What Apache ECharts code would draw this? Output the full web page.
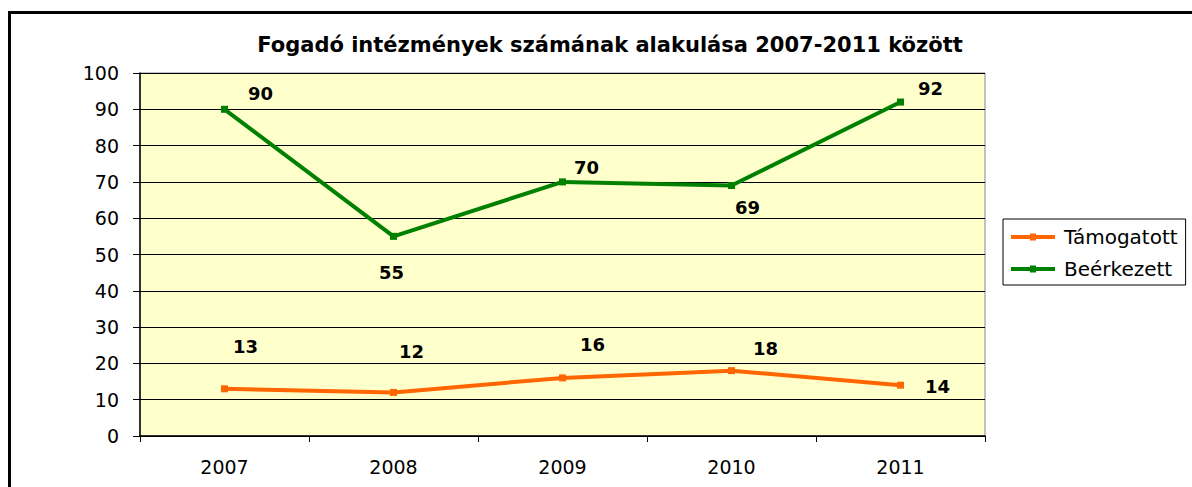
<!DOCTYPE html>
<html>
<head>
<meta charset="utf-8">
<script src="https://cdn.jsdelivr.net/npm/echarts@6/dist/echarts.min.js"></script>
<style>
html,body{margin:0;padding:0;background:#fff;}
#chart{width:1192px;height:487px;}
</style>
</head>
<body>
<div id="chart"></div>
<script>
// Fogadó intézmények számának alakulása
var years = ['2007', '2008', '2009', '2010', '2011'];
var tamogatott = [13, 12, 16, 18, 14];
var beerkezett = [90, 55, 70, 69, 92];

// label offsets (px) from each point, as in the original
var tamOffsets = [[21, -42], [18, -41], [30, -33], [34, -22], [37, 1]];
var beeOffsets = [[36, -16], [-2, 36], [24, -14], [16, 22], [30, -14]];

function withLabels(values, offsets) {
	return values.map(function (v, i) {
		return {value: v, label: {offset: offsets[i]}};
	});
}

var labelStyle = {
	show: true,
	position: 'inside',
	align: 'center',
	verticalAlign: 'middle',
	fontFamily: 'DejaVu Sans',
	fontWeight: 'bold',
	fontSize: 18,
	color: '#000'
};

// legend icon: thick line with a small square in the middle
var legendIcon = 'path://M0,5 L44,5 L44,9 L0,9 Z M19,3.5 L25,3.5 L25,10.5 L19,10.5 Z';

var chart = echarts.init(document.getElementById('chart'), null, {renderer: 'svg'});
var option = {
	animation: false,
	title: {
		text: 'Fogadó intézmények számának alakulása 2007-2011 között',
		left: 605,
		textAlign: 'center',
		top: 29,
		textStyle: {
			fontFamily: 'DejaVu Sans',
			fontWeight: 'bold',
			fontSize: 21,
			color: '#000'
		}
	},
	graphic: [{
		type: 'rect',
		shape: {x: 9.5, y: 12.5, width: 1200, height: 500},
		style: {fill: 'none', stroke: '#000', lineWidth: 3},
		silent: true
	}],
	legend: {
		orient: 'vertical',
		left: 1003,
		top: 219,
		padding: [8, 8, 6, 8],
		itemGap: 12,
		itemWidth: 44,
		itemHeight: 14,
		borderColor: '#000',
		borderWidth: 1,
		backgroundColor: '#fff',
		data: [
			{name: 'Támogatott', icon: legendIcon},
			{name: 'Beérkezett', icon: legendIcon}
		],
		textStyle: {
			fontFamily: 'DejaVu Sans',
			fontSize: 20,
			color: '#000',
			padding: [0, 0, 0, 4]
		}
	},
	grid: {
		left: 140,
		top: 73,
		right: 207,
		bottom: 51,
		show: true,
		backgroundColor: '#FFFFCC',
		borderColor: '#888',
		borderWidth: 1
	},
	xAxis: {
		type: 'category',
		data: years,
		boundaryGap: true,
		axisLine: {lineStyle: {color: '#000', width: 1.5}},
		axisTick: {show: true, length: 6, lineStyle: {color: '#000'}},
		axisLabel: {
			fontFamily: 'DejaVu Sans',
			fontSize: 19,
			color: '#000',
			margin: 21
		},
		splitLine: {show: false}
	},
	yAxis: {
		type: 'value',
		min: 0,
		max: 100,
		interval: 10,
		axisLine: {show: true, lineStyle: {color: '#000', width: 1.5}},
		axisTick: {show: true, length: 7, lineStyle: {color: '#000'}},
		axisLabel: {
			fontFamily: 'DejaVu Sans',
			fontSize: 19,
			color: '#000',
			margin: 21
		},
		splitLine: {show: true, lineStyle: {color: '#000', width: 1}}
	},
	series: [
		{
			name: 'Támogatott',
			type: 'line',
			data: withLabels(tamogatott, tamOffsets),
			symbol: 'rect',
			symbolSize: 7,
			lineStyle: {color: '#FF6600', width: 4},
			itemStyle: {color: '#FF6600'},
			label: labelStyle
		},
		{
			name: 'Beérkezett',
			type: 'line',
			data: withLabels(beerkezett, beeOffsets),
			symbol: 'rect',
			symbolSize: 7,
			lineStyle: {color: '#008000', width: 4},
			itemStyle: {color: '#008000'},
			label: labelStyle
		}
	]
};
chart.setOption(option);
</script>
</body>
</html>
